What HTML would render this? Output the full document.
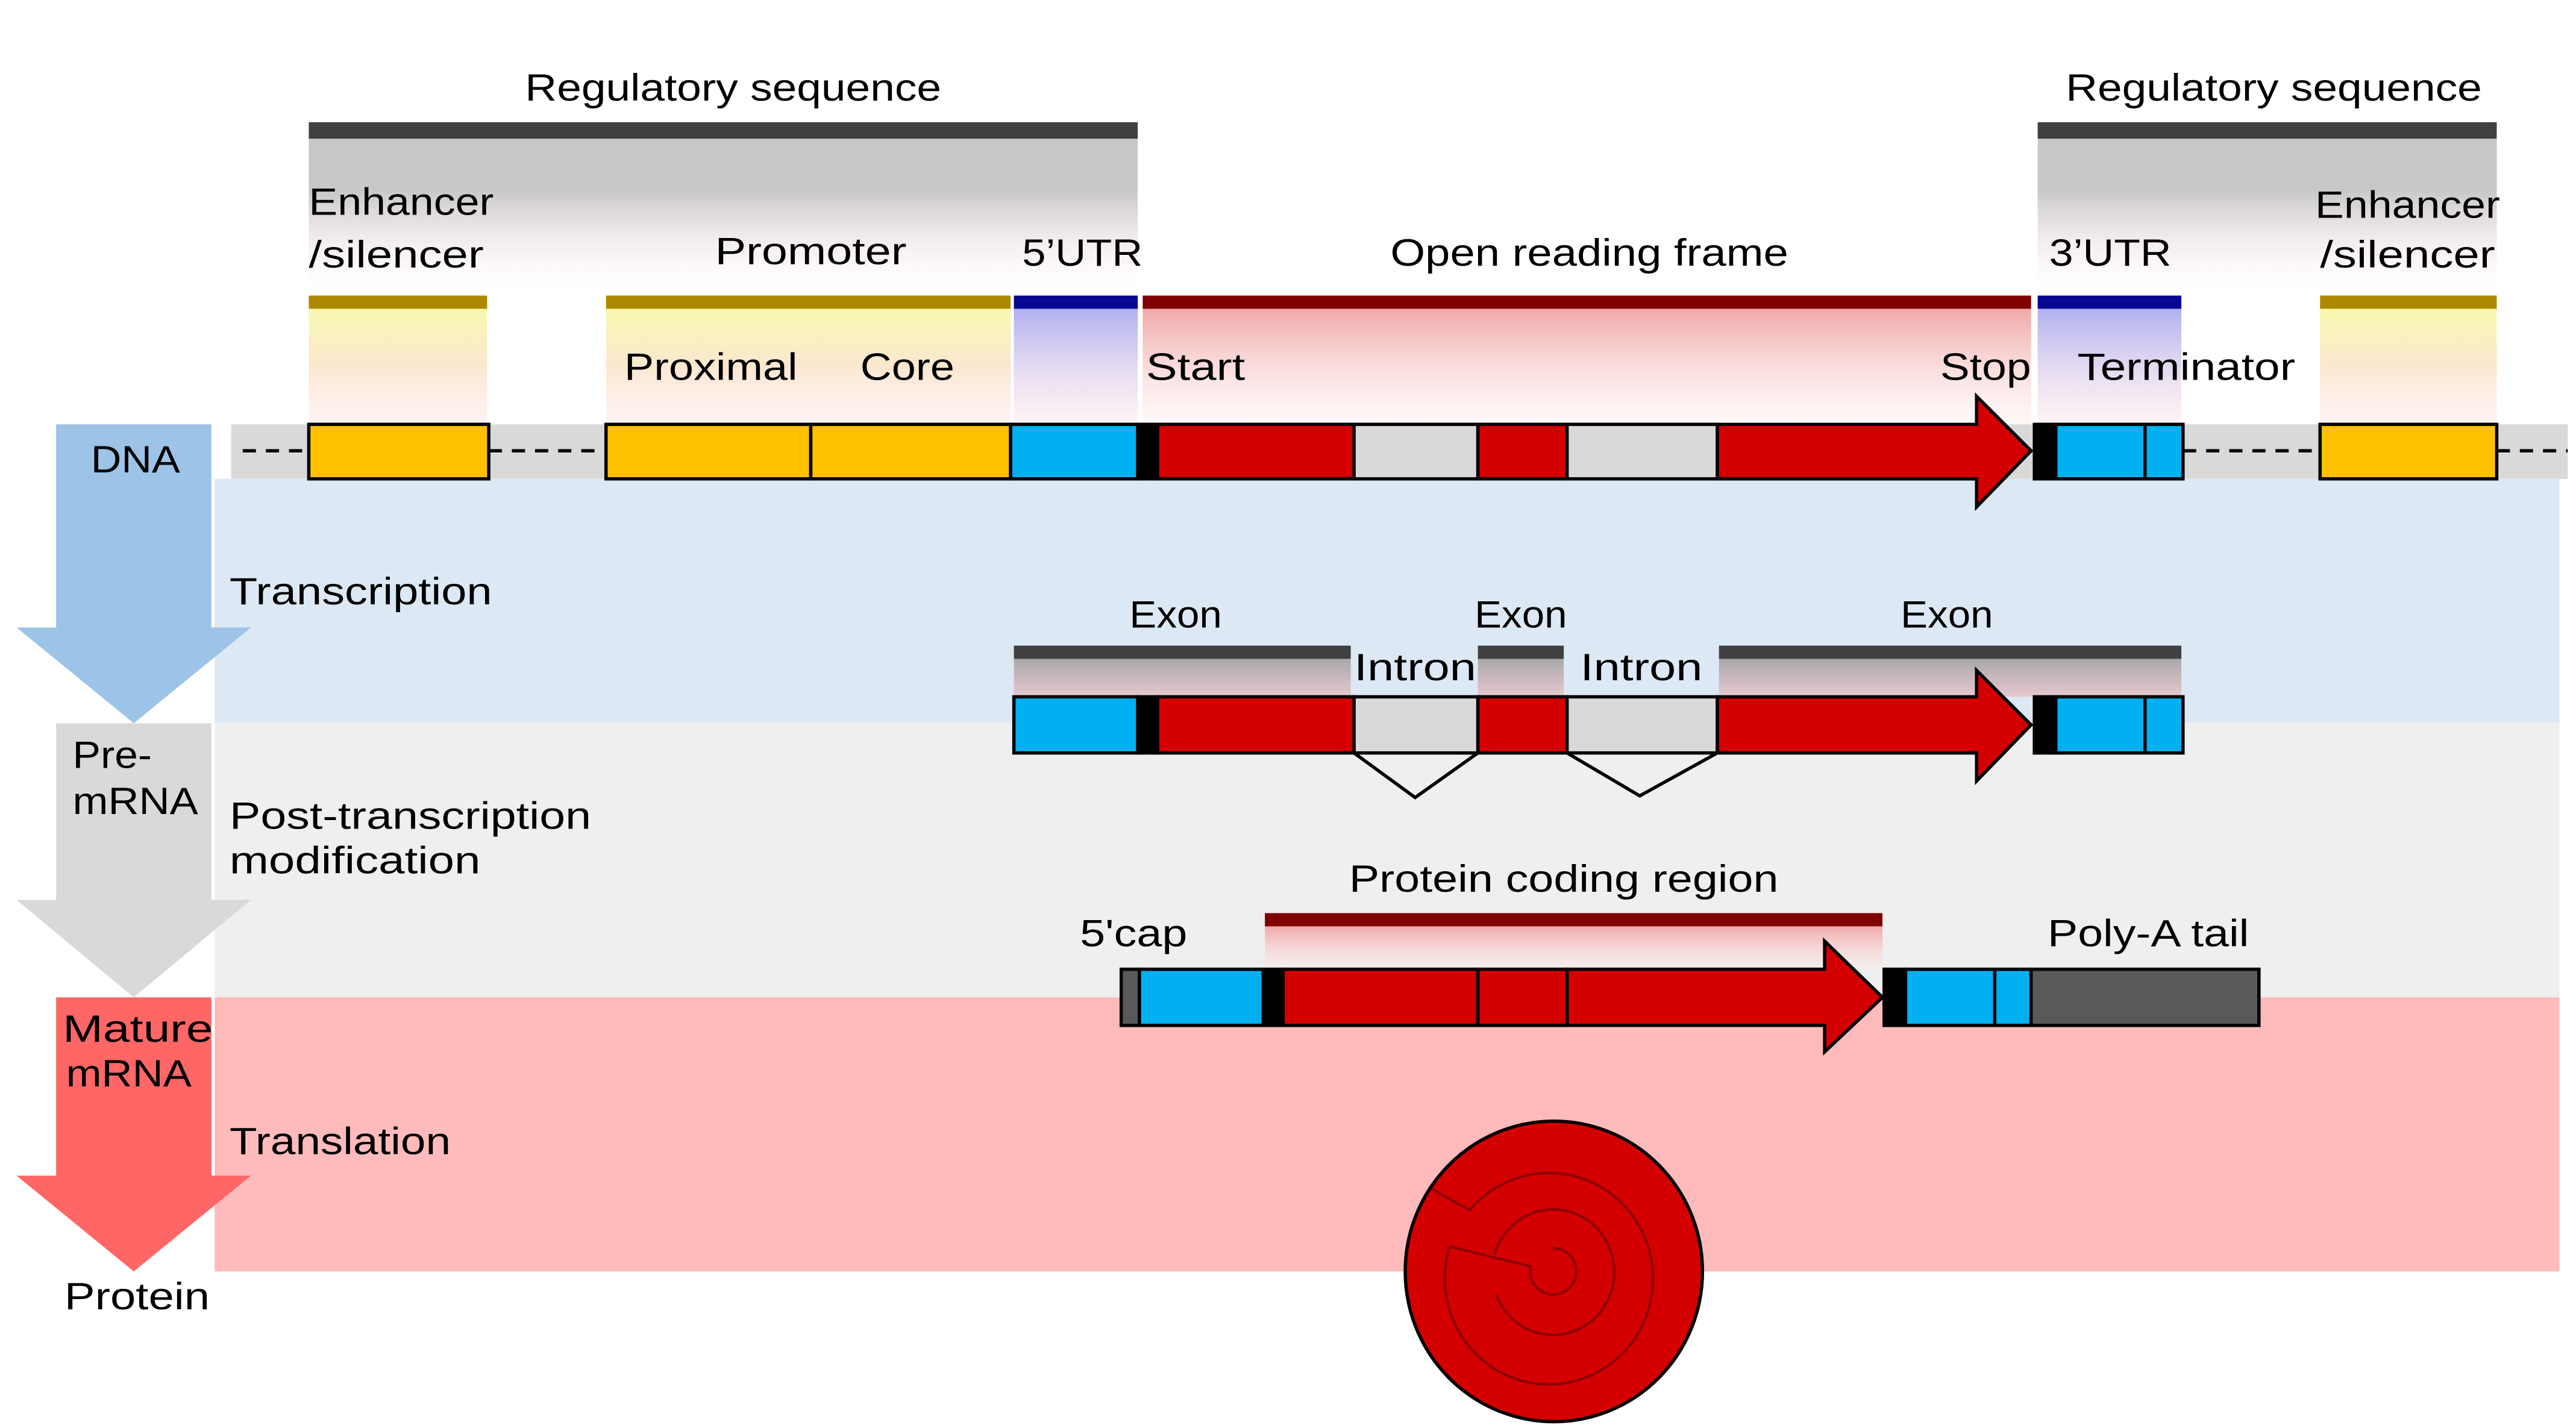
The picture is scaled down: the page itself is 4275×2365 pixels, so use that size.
<!DOCTYPE html>
<html><head><meta charset="utf-8"><style>html,body{margin:0;padding:0;background:#fff}svg{display:block}</style></head><body>
<svg xmlns="http://www.w3.org/2000/svg" width="4275" height="2365" viewBox="0 0 1560 863" font-family="Liberation Sans, sans-serif" font-size="23" fill="#000">
<defs>
<linearGradient id="gG" x1="0" y1="0" x2="0" y2="1"><stop offset="0" stop-color="#c8c8c8"/><stop offset="0.35" stop-color="#c8c8c8"/><stop offset="1" stop-color="#ffe8e8" stop-opacity="0"/></linearGradient>
<linearGradient id="gY" x1="0" y1="0" x2="0" y2="1"><stop offset="0" stop-color="#f8f8b0"/><stop offset="0.5" stop-color="#fbe8d0"/><stop offset="1" stop-color="#ffe8e8" stop-opacity="0.5"/></linearGradient>
<linearGradient id="gB" x1="0" y1="0" x2="0" y2="1"><stop offset="0" stop-color="#b0b0f0"/><stop offset="1" stop-color="#ffe8e8" stop-opacity="0.5"/></linearGradient>
<linearGradient id="gR" x1="0" y1="0" x2="0" y2="1"><stop offset="0" stop-color="#f0a8a8"/><stop offset="1" stop-color="#ffe8e8" stop-opacity="0.3"/></linearGradient>
<linearGradient id="gE" x1="0" y1="0" x2="0" y2="1"><stop offset="0" stop-color="#a8a8a8"/><stop offset="1" stop-color="#e8c8d0"/></linearGradient>
</defs>
<rect x="130" y="290" width="1420" height="148" fill="#dde8f5"/>
<rect x="130" y="438" width="1420" height="166" fill="#efefef"/>
<rect x="130" y="604" width="1420" height="166" fill="#ffbbbb"/>
<rect x="140" y="257" width="1415" height="33" fill="#d9d9d9"/>
<polygon points="34,257 128,257 128,380 152,380 81,438 10,380 34,380" fill="#9dc3e6"/>
<polygon points="34,438 128,438 128,545 152,545 81,604 10,545 34,545" fill="#d9d9d9"/>
<polygon points="34,604 128,604 128,712 152,712 81,770 10,712 34,712" fill="#ff6666"/>
<rect x="187" y="84" width="502" height="90" fill="url(#gG)"/>
<rect x="187" y="74" width="502" height="10" fill="#404040"/>
<rect x="1234" y="84" width="278" height="90" fill="url(#gG)"/>
<rect x="1234" y="74" width="278" height="10" fill="#404040"/>
<rect x="187" y="187" width="108" height="70" fill="url(#gY)"/>
<rect x="187" y="179" width="108" height="8" fill="#ad8a00"/>
<rect x="367" y="187" width="245" height="70" fill="url(#gY)"/>
<rect x="367" y="179" width="245" height="8" fill="#ad8a00"/>
<rect x="1405" y="187" width="107" height="70" fill="url(#gY)"/>
<rect x="1405" y="179" width="107" height="8" fill="#ad8a00"/>
<rect x="614" y="187" width="75" height="70" fill="url(#gB)"/>
<rect x="614" y="179" width="75" height="8" fill="#060691"/>
<rect x="1234" y="187" width="87" height="70" fill="url(#gB)"/>
<rect x="1234" y="179" width="87" height="8" fill="#060691"/>
<rect x="692" y="187" width="538" height="70" fill="url(#gR)"/>
<rect x="692" y="179" width="538" height="8" fill="#800000"/>
<g stroke="#000" stroke-width="2">
<line x1="147" y1="273" x2="187" y2="273" stroke-dasharray="8,6"/>
<line x1="296" y1="273" x2="367" y2="273" stroke-dasharray="8,6"/>
<line x1="1322" y1="273" x2="1405" y2="273" stroke-dasharray="8,6"/>
<line x1="1512" y1="273" x2="1555" y2="273" stroke-dasharray="8,6"/>
<rect x="187" y="257" width="109" height="33" fill="#ffc000"/>
<rect x="367" y="257" width="124" height="33" fill="#ffc000"/>
<rect x="491" y="257" width="121" height="33" fill="#ffc000"/>
<rect x="612" y="257" width="77" height="33" fill="#00b0f0"/>
<rect x="689" y="257" width="12" height="33" fill="#000"/>
<rect x="701" y="257" width="119" height="33" fill="#d40000"/>
<rect x="820" y="257" width="75" height="33" fill="#d9d9d9"/>
<rect x="895" y="257" width="54" height="33" fill="#d40000"/>
<rect x="949" y="257" width="91" height="33" fill="#d9d9d9"/>
<polygon points="1040,257 1197,257 1197,240 1230,273 1197,307 1197,290 1040,290" fill="#d40000"/>
<rect x="1232" y="257" width="13" height="33" fill="#000"/>
<rect x="1245" y="257" width="77" height="33" fill="#00b0f0"/>
<line x1="1299" y1="257" x2="1299" y2="290"/>
<rect x="1405" y="257" width="107" height="33" fill="#ffc000"/>
</g>
<rect x="614" y="399" width="204" height="23" fill="url(#gE)"/>
<rect x="614" y="391" width="204" height="8" fill="#404040"/>
<rect x="895" y="399" width="52" height="23" fill="url(#gE)"/>
<rect x="895" y="391" width="52" height="8" fill="#404040"/>
<rect x="1041" y="399" width="280" height="23" fill="url(#gE)"/>
<rect x="1041" y="391" width="280" height="8" fill="#404040"/>
<g stroke="#000" stroke-width="2">
<rect x="614" y="422" width="75" height="34" fill="#00b0f0"/>
<rect x="689" y="422" width="12" height="34" fill="#000"/>
<rect x="701" y="422" width="119" height="34" fill="#d40000"/>
<rect x="820" y="422" width="75" height="34" fill="#d9d9d9"/>
<rect x="895" y="422" width="54" height="34" fill="#d40000"/>
<rect x="949" y="422" width="91" height="34" fill="#d9d9d9"/>
<polygon points="1040,422 1197,422 1197,406 1230,439 1197,473 1197,456 1040,456" fill="#d40000"/>
<rect x="1232" y="422" width="13" height="34" fill="#000"/>
<rect x="1245" y="422" width="77" height="34" fill="#00b0f0"/>
<line x1="1299" y1="422" x2="1299" y2="456"/>
<polyline points="820,456 857,483 895,456" fill="none"/>
<polyline points="949,456 993,482 1040,456" fill="none"/>
</g>
<rect x="766" y="561" width="374" height="26" fill="url(#gR)"/>
<rect x="766" y="553" width="374" height="8" fill="#800000"/>
<g stroke="#000" stroke-width="2">
<rect x="679" y="587" width="11" height="34" fill="#595959"/>
<rect x="690" y="587" width="75" height="34" fill="#00b0f0"/>
<rect x="765" y="587" width="12" height="34" fill="#000"/>
<rect x="777" y="587" width="118" height="34" fill="#d40000"/>
<rect x="895" y="587" width="54" height="34" fill="#d40000"/>
<polygon points="949,587 1105,587 1105,570 1140,604 1105,637 1105,621 949,621" fill="#d40000"/>
<rect x="1141" y="587" width="13" height="34" fill="#000"/>
<rect x="1154" y="587" width="76" height="34" fill="#00b0f0"/>
<line x1="1208" y1="587" x2="1208" y2="621"/>
<rect x="1230" y="587" width="138" height="34" fill="#595959"/>
</g>
<ellipse cx="941" cy="770" rx="90" ry="91" fill="#d40000" stroke="#000" stroke-width="2"/>
<g fill="none" stroke="#8a0000" stroke-width="1.5">
<path d="M867,720 L890,733 A63,64 0 1 1 878,755 L927,767 A14,14 0 1 0 940,756"/>
<path d="M905,760 A37,38 0 1 1 906,784"/>
</g>
<text x="318" y="61" textLength="252" lengthAdjust="spacingAndGlyphs">Regulatory sequence</text>
<text x="1251" y="61" textLength="252" lengthAdjust="spacingAndGlyphs">Regulatory sequence</text>
<text x="187" y="130" textLength="112" lengthAdjust="spacingAndGlyphs">Enhancer</text>
<text x="187" y="162" textLength="106" lengthAdjust="spacingAndGlyphs">/silencer</text>
<text x="1402" y="132" textLength="112" lengthAdjust="spacingAndGlyphs">Enhancer</text>
<text x="1405" y="162" textLength="106" lengthAdjust="spacingAndGlyphs">/silencer</text>
<text x="433" y="160" textLength="116" lengthAdjust="spacingAndGlyphs">Promoter</text>
<text x="619" y="161" textLength="73" lengthAdjust="spacingAndGlyphs">5’UTR</text>
<text x="842" y="161" textLength="241" lengthAdjust="spacingAndGlyphs">Open reading frame</text>
<text x="1241" y="161" textLength="74" lengthAdjust="spacingAndGlyphs">3’UTR</text>
<text x="378" y="230" textLength="105" lengthAdjust="spacingAndGlyphs">Proximal</text>
<text x="521" y="230" textLength="57" lengthAdjust="spacingAndGlyphs">Core</text>
<text x="694" y="230" textLength="60" lengthAdjust="spacingAndGlyphs">Start</text>
<text x="1175" y="230" textLength="55" lengthAdjust="spacingAndGlyphs">Stop</text>
<text x="1258" y="230" textLength="132" lengthAdjust="spacingAndGlyphs">Terminator</text>
<text x="55" y="286" textLength="54" lengthAdjust="spacingAndGlyphs">DNA</text>
<text x="139" y="366" textLength="159" lengthAdjust="spacingAndGlyphs">Transcription</text>
<text x="684" y="380" textLength="56" lengthAdjust="spacingAndGlyphs">Exon</text>
<text x="893" y="380" textLength="56" lengthAdjust="spacingAndGlyphs">Exon</text>
<text x="1151" y="380" textLength="56" lengthAdjust="spacingAndGlyphs">Exon</text>
<text x="820" y="412" textLength="74" lengthAdjust="spacingAndGlyphs">Intron</text>
<text x="957" y="412" textLength="74" lengthAdjust="spacingAndGlyphs">Intron</text>
<text x="44" y="465" textLength="48" lengthAdjust="spacingAndGlyphs">Pre-</text>
<text x="44" y="493" textLength="76" lengthAdjust="spacingAndGlyphs">mRNA</text>
<text x="139" y="502" textLength="219" lengthAdjust="spacingAndGlyphs">Post-transcription</text>
<text x="139" y="529" textLength="152" lengthAdjust="spacingAndGlyphs">modification</text>
<text x="817" y="540" textLength="260" lengthAdjust="spacingAndGlyphs">Protein coding region</text>
<text x="654" y="573" textLength="65" lengthAdjust="spacingAndGlyphs">5'cap</text>
<text x="1240" y="573" textLength="122" lengthAdjust="spacingAndGlyphs">Poly-A tail</text>
<text x="38" y="631" textLength="91" lengthAdjust="spacingAndGlyphs">Mature</text>
<text x="40" y="658" textLength="76" lengthAdjust="spacingAndGlyphs">mRNA</text>
<text x="139" y="699" textLength="134" lengthAdjust="spacingAndGlyphs">Translation</text>
<text x="39" y="793" textLength="88" lengthAdjust="spacingAndGlyphs">Protein</text>
</svg>
</body></html>
